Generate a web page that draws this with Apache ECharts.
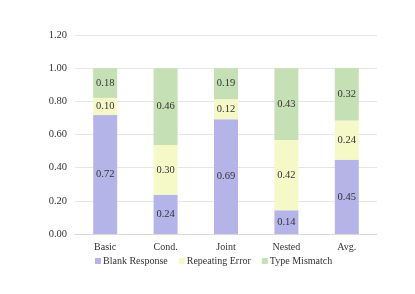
<!DOCTYPE html>
<html><head><meta charset="utf-8">
<script src="https://cdn.jsdelivr.net/npm/echarts@6/dist/echarts.min.js"></script>
<style>html,body{margin:0;padding:0;background:#fff}#c{width:415px;height:294px}</style>
</head><body><div id="c"></div>
<script>
var categories = ['Basic', 'Cond.', 'Joint', 'Nested', 'Avg.'];
var blankResponse = [0.717, 0.236, 0.692, 0.143, 0.448];
var repeatingError = [0.104, 0.300, 0.121, 0.424, 0.237];
var typeMismatch = [0.179, 0.464, 0.187, 0.433, 0.316];
var yTicks = [0, 0.2, 0.4, 0.6, 0.8, 1.0, 1.2];

var font = 'Liberation Serif';
function mk(name, data, color) {
  return {
    name: name, type: 'bar', stack: 'a', data: data, barWidth: 24,
    itemStyle: { color: color },
    label: { show: true, position: 'inside', color: '#333', fontFamily: font, fontSize: 10.5,
      formatter: function (p) { return p.value.toFixed(2); } }
  };
}
var chart = echarts.init(document.getElementById('c'), null, { renderer: 'canvas' });
chart.setOption({
  animation: false,
  textStyle: { fontFamily: font },
  grid: { left: 75, right: 38, top: 35, bottom: 60, containLabel: false },
  legend: {
    bottom: 23, left: 90, itemWidth: 6, itemHeight: 6, itemGap: 11, icon: 'rect',
    textStyle: { fontFamily: font, fontSize: 10, color: '#333', padding: [0, 0, 0, -3] },
    data: ['Blank Response', 'Repeating Error', 'Type Mismatch']
  },
  xAxis: {
    type: 'category', data: categories,
    axisLine: { lineStyle: { color: '#d9d9d9' } }, axisTick: { show: false },
    axisLabel: { color: '#333', fontFamily: font, fontSize: 10, margin: 8 }
  },
  yAxis: {
    type: 'value', min: 0, max: 1.2, interval: 0.2,
    axisLine: { show: false }, axisTick: { show: false },
    splitLine: { lineStyle: { color: '#e6e6e6' } },
    axisLabel: { color: '#333', fontFamily: font, fontSize: 10.5, margin: 8,
      formatter: function (v) { return v.toFixed(2); } }
  },
  series: [
    mk('Blank Response', blankResponse, '#b4b4e9'),
    mk('Repeating Error', repeatingError, '#f5f9c7'),
    mk('Type Mismatch', typeMismatch, '#c6e0b5')
  ]
});
</script></body></html>
